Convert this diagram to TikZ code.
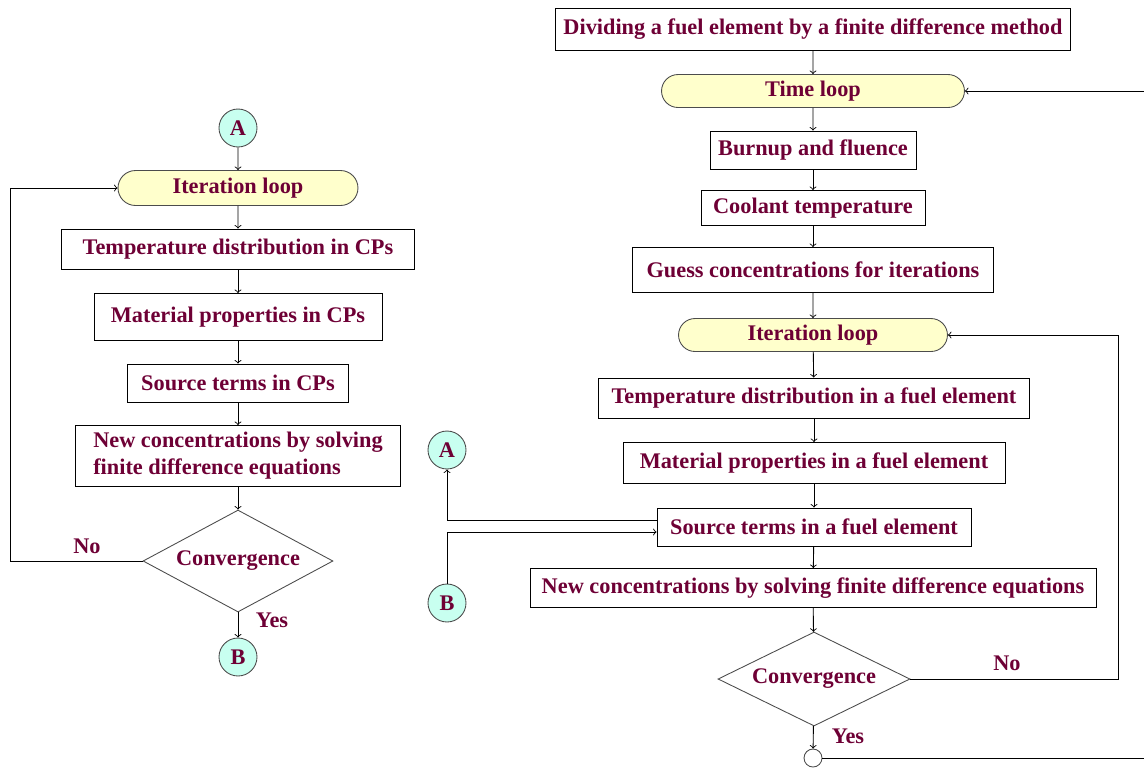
\documentclass[tikz,border=0pt]{standalone}
\usepackage{fontspec}
\setmainfont{Liberation Serif}
\usetikzlibrary{shapes.geometric,shapes.misc}
\definecolor{txtred}{HTML}{6E0035}
\definecolor{loopfill}{HTML}{FFFFCC}
\definecolor{linkfill}{HTML}{C8FFF0}
\begin{document}
\begin{tikzpicture}[x=0.02cm, y=-0.02cm, line width=0.5pt,
        every node/.style={font=\fontsize{12.7}{15.4}\selectfont\bfseries, text=txtred, inner sep=0pt},
        stepbox/.style={draw, rectangle},
        loopbox/.style={draw=black!70, fill=loopfill, rounded rectangle, minimum width=#1},
        linkcirc/.style={draw=black!70, fill=linkfill, circle, minimum size=0.76cm},
        decision/.style={draw=black!70, diamond, aspect=#1},
        lbl/.style={anchor=center}]
    \useasboundingbox (0,0) rectangle (1144,769);
    % right column
    \node[stepbox, minimum width=10.3cm, minimum height=0.84cm] (div) at (813,29) {Dividing a fuel element by a finite difference method};
    \node[loopbox=6.06cm, minimum height=0.66cm] (time) at (813,91) {Time loop};
    \node[stepbox, minimum width=4.12cm, minimum height=0.76cm] (burn) at (813,150) {Burnup and fluence};
    \node[stepbox, minimum width=4.48cm, minimum height=0.7cm] (cool) at (813,208) {Coolant temperature};
    \node[stepbox, minimum width=7.22cm, minimum height=0.9cm] (guess) at (813,270) {Guess concentrations for iterations};
    \node[loopbox=5.38cm, minimum height=0.66cm] (iterR) at (813,335) {Iteration loop};
    \node[stepbox, minimum width=8.62cm, minimum height=0.8cm] (tempR) at (814,398) {Temperature distribution in a fuel element};
    \node[stepbox, minimum width=7.64cm, minimum height=0.82cm] (matR) at (814,463) {Material properties in a fuel element};
    \node[stepbox, minimum width=6.28cm, minimum height=0.76cm] (srcR) at (814,527) {Source terms in a fuel element};
    \node[stepbox, minimum width=11.32cm, minimum height=0.78cm] (newR) at (813,588) {New concentrations by solving finite difference equations};
    \node[decision=2.04, minimum width=3.84cm, minimum height=1.88cm] (convR) at (814,679) {Convergence};
    \node[draw=black!70, fill=white, circle, minimum size=0.36cm] (endR) at (813,758) {};
    \node[linkcirc] (linkA) at (447,450) {A};
    \node[linkcirc] (linkB) at (447,603) {B};
    \coordinate (backR) at (1118,335);
    \coordinate (timeIn) at (1144,91);
    \coordinate (timeOut) at (1144,758);
    % left column
    \node[linkcirc] (A) at (238,128) {A};
    \node[loopbox=4.8cm, minimum height=0.7cm] (iterL) at (238,188) {Iteration loop};
    \node[stepbox, minimum width=7.06cm, minimum height=0.8cm] (tempL) at (238,249) {Temperature distribution in CPs};
    \node[stepbox, minimum width=5.76cm, minimum height=0.94cm] (matL) at (238,317) {Material properties in CPs};
    \node[stepbox, minimum width=4.42cm, minimum height=0.76cm] (srcL) at (238,383) {Source terms in CPs};
    \node[stepbox, minimum width=6.5cm, minimum height=1.22cm, align=left] (newL) at (238,456) {New concentrations by solving\\finite difference equations};
    \node[decision=1.86, minimum width=3.8cm, minimum height=2.04cm] (convL) at (238,561) {Convergence};
    \node[linkcirc] (B) at (238,657) {B};
    \coordinate (backL) at (10,188);
    % labels
    \node[lbl] (noL) at (87,546) {No};
    \node[lbl] (yesL) at (272,620) {Yes};
    \node[lbl] (noR) at (1007,663) {No};
    \node[lbl] (yesR) at (848,736) {Yes};
    % connectors
    \foreach \a/\b in {div/time, time/burn, burn/cool, cool/guess, guess/iterR, iterR/tempR, tempR/matR, matR/srcR, srcR/newR, newR/convR, convR/endR,
                       A/iterL, iterL/tempL, tempL/matL, matL/srcL, srcL/newL, newL/convL, convL/B} {
        \draw[->] (\a) -- (\b);
    }
    \draw[->] (convR.east) -| (backR) -- (iterR.east);
    \draw[->] (convL.west) -| (backL) -- (iterL.west);
    \draw[->] (timeIn) -- (time.east);
    \draw (endR.east) -- (timeOut);
    \draw[->] ([yshift=0.14cm]srcR.west) -| (linkA.south);
    \draw[->] (linkB.north) |- ([yshift=-0.1cm]srcR.west);
\end{tikzpicture}
\end{document}
